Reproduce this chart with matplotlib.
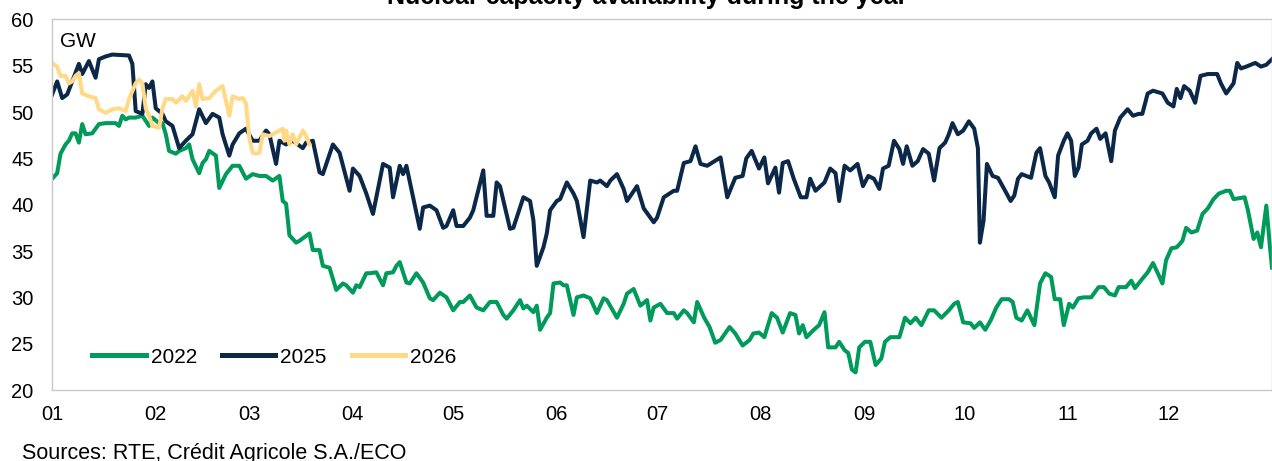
import matplotlib
matplotlib.use("Agg")
import matplotlib.pyplot as plt

plt.rcParams['font.family'] = ['Liberation Sans', 'DejaVu Sans']

# day of year / GW
days_2022 = [0, 1.5, 2.5, 4, 5, 6, 7, 8, 9, 10, 12, 14, 16, 19, 20, 21, 22, 23, 25, 27, 29, 30, 32, 33, 34, 35, 37, 38,
             40, 41, 42, 44, 45, 46, 47, 49, 50, 52, 54, 56, 58, 60, 62, 64, 66, 68, 69, 70, 71, 73, 74, 77, 78, 80,
             81, 83, 85, 87, 88, 90, 91, 92, 94, 95, 97, 99, 100, 102, 103, 104, 106, 107, 109, 111, 113, 114, 116,
             118, 120, 122, 123, 125, 127, 129, 131, 133, 135, 136, 138, 140, 141, 142, 144, 145, 146, 148, 149, 150,
             152, 153, 154, 156, 157, 159, 161, 163, 165, 166, 169, 171, 172, 174, 176, 178, 179, 180, 182, 184, 186,
             187, 189, 190, 192, 193, 195.1, 196.7, 198.4, 200, 202.7, 204.4, 206.6, 208.7, 209.8, 211.5, 213.1,
             215.3, 216.9, 218.6, 220.8, 222.4, 223.5, 224.6, 225.7, 227.9, 229.5, 231.1, 232.2, 234.4, 235.5, 237.1,
             238.2, 239.3, 240.4, 241.5, 243.2, 244.8, 246.4, 248.1, 249.2, 250.8, 253.5, 255.2, 256.8, 258.4, 260.1,
             262.3, 263.9, 266.1, 268.3, 269.9, 271, 272.6, 274.8, 275.9, 277.6, 279.2, 280.8, 282.5, 284.1, 286.3,
             287.4, 288.5, 290.1, 291.8, 293.9, 295.6, 297.2, 298.9, 300, 301.6, 302.7, 304.3, 305.4, 307.1, 308.7,
             310.9, 313.1, 314.7, 316.3, 318, 319.1, 321.3, 322.9, 324, 326.2, 327.8, 329.4, 331.1, 332.2, 333.3,
             334.9, 336.5, 338.2, 339.3, 340.9, 342.6, 344.2, 345.8, 347.5, 349.1, 351.3, 352.4, 353.5, 356.8, 357.8,
             359.5, 360.6, 361.7, 363.3, 364.4, 365]
gw_2022 = [42.8, 43.4, 45.5, 46.5, 46.9, 47.7, 47.7, 46.7, 48.7, 47.6, 47.7, 48.7, 48.8, 48.8, 48.5, 49.6, 49.2, 49.4,
           49.4, 49.6, 48.5, 49.4, 48.8, 48.8, 47.6, 45.8, 45.5, 45.8, 46.1, 46.5, 44.9, 43.4, 44.5, 44.9, 45.8, 45.3,
           41.8, 43.3, 44.2, 44.2, 42.8, 43.3, 43.1, 43.1, 42.6, 43.1, 40.4, 40.1, 36.7, 35.9, 36.1, 36.9, 35.1, 35.1,
           33.4, 33.2, 30.8, 31.5, 31.3, 30.5, 31.3, 31.1, 32.6, 32.6, 32.7, 31.3, 32.6, 32.7, 33.4, 33.8, 31.6, 31.5,
           32.6, 31.6, 29.9, 29.7, 30.5, 30.0, 28.6, 29.5, 29.5, 30.2, 28.9, 28.6, 29.5, 29.5, 28.1, 27.7, 28.6, 29.7,
           28.8, 29.1, 28.4, 29.1, 26.5, 27.8, 28.3, 31.5, 31.6, 31.3, 31.3, 28.1, 30.0, 30.2, 29.9, 28.3, 29.9, 29.7,
           27.8, 29.3, 30.4, 30.9, 29.1, 29.7, 27.5, 28.9, 29.3, 28.3, 28.3, 27.7, 28.6, 28.3, 27.3, 29.5, 27.8, 26.8,
           25.1, 25.4, 26.8, 26.1, 24.8, 25.4, 26.1, 26.2, 25.7, 28.3, 27.8, 26.2, 28.3, 28.1, 26.1, 27.0, 25.7, 26.5,
           27.0, 28.4, 24.6, 24.6, 25.2, 24.3, 24.0, 22.2, 21.9, 24.6, 25.2, 25.2, 22.7, 23.4, 25.2, 25.7, 25.7, 27.8,
           27.2, 27.8, 27.0, 28.6, 28.6, 27.8, 28.6, 29.3, 29.5, 27.3, 27.2, 26.7, 27.3, 26.5, 27.5, 28.9, 29.8, 29.8,
           29.5, 27.8, 27.5, 28.6, 27.0, 31.5, 32.6, 32.2, 29.8, 29.8, 27.0, 29.3, 28.9, 29.9, 30.0, 30.0, 31.1, 31.1,
           30.4, 30.2, 31.1, 31.1, 31.8, 31.0, 32.0, 32.7, 33.7, 32.4, 31.5, 34.0, 35.3, 35.4, 36.1, 37.5, 37.0, 37.2,
           39.0, 39.6, 40.6, 41.2, 41.5, 41.5, 40.6, 40.8, 39.4, 36.3, 37.0, 35.4, 39.9, 35.4, 33.2]

days_2025 = [0, 1.5, 3, 4.5, 6, 8, 9, 11, 13, 14, 16, 18, 23, 24, 25, 27, 28, 29, 30, 31, 33, 34, 36, 38, 40, 42, 44,
             46, 48, 50, 51, 53, 54, 56, 58, 60, 62, 64, 65, 67, 68, 70, 72, 75, 76, 78, 80, 81, 84, 86, 89, 90, 92,
             94, 96, 99, 101, 102, 104, 105, 106, 110, 111, 113, 115, 117, 118, 120, 121, 123, 125, 126, 129, 130,
             132, 133, 134, 137, 138, 141, 143, 144, 145, 147, 148, 149, 151, 152, 154, 156, 157, 159, 161, 163, 164,
             166, 167, 169, 171, 172, 175, 177, 180, 181, 183, 186, 187, 189, 191, 192.5, 194, 196, 200, 202, 204.4,
             206.6, 207.7, 209.3, 211.5, 213.1, 214.2, 216.4, 217.5, 218.6, 220.2, 221.9, 224, 225.7, 226.8, 228.4,
             231.1, 232.8, 234.4, 235.5, 237.1, 238.8, 241, 242.6, 244.2, 245.9, 247.5, 248.6, 250.3, 251.9, 253.5,
             254.6, 255.7, 257.4, 259, 260.6, 262.3, 263.9, 265.5, 267.2, 268.3, 269.4, 271, 272.6, 274.3, 275.9, 277,
             277.6, 278.7, 279.7, 281.4, 283, 284.7, 286.8, 287.9, 289, 290.1, 292.9, 294.5, 295.6, 297.2, 298.3, 300,
             301, 302.7, 303.8, 304.9, 306, 307.1, 308.1, 309.8, 310.9, 312.5, 313.6, 315.2, 316.9, 318, 319.6, 321.8,
             323.4, 325.1, 326.2, 327.8, 329.4, 332.2, 333.8, 335.5, 336.5, 337.6, 338.7, 340.4, 342, 343.6, 345.8,
             348.6, 349.7, 351.3, 353.5, 354.6, 355.7, 357.3, 360, 361.7, 363.3, 365]
gw_2025 = [51.9, 53.3, 51.5, 51.9, 53.3, 55.2, 54.1, 55.5, 53.7, 55.7, 56.0, 56.2, 56.1, 55.2, 50.1, 49.8, 53.0, 52.6,
           53.3, 50.4, 49.8, 49.0, 48.5, 46.1, 46.9, 47.6, 50.3, 48.8, 49.8, 49.4, 47.6, 45.3, 46.5, 47.7, 48.2, 46.9,
           46.9, 48.0, 47.6, 44.4, 46.9, 46.5, 46.9, 46.1, 46.7, 46.9, 43.5, 43.3, 46.5, 45.6, 41.5, 43.9, 43.1, 41.2,
           39.0, 44.4, 44.0, 40.8, 44.2, 43.3, 44.2, 37.4, 39.7, 39.9, 39.4, 37.5, 37.7, 39.4, 37.7, 37.7, 38.6, 39.4,
           43.7, 38.8, 38.8, 42.4, 42.0, 37.4, 37.5, 40.8, 40.4, 38.3, 33.4, 35.4, 36.9, 39.4, 40.4, 40.6, 42.4, 41.2,
           40.4, 36.5, 42.6, 42.4, 42.6, 42.0, 42.6, 43.3, 41.7, 40.4, 42.0, 39.6, 38.1, 38.6, 40.8, 41.5, 41.5, 44.5,
           44.7, 46.3, 44.4, 44.2, 45.1, 40.8, 42.9, 43.1, 45.0, 45.8, 43.9, 45.1, 42.3, 44.0, 41.3, 44.5, 44.7, 42.8,
           40.8, 40.8, 42.8, 41.5, 42.4, 43.9, 43.4, 40.4, 44.2, 43.7, 44.4, 42.0, 43.1, 42.8, 41.7, 43.9, 44.2, 46.9,
           46.0, 44.4, 46.3, 44.2, 44.7, 46.0, 45.5, 42.6, 46.1, 46.7, 47.6, 48.8, 47.6, 48.0, 49.0, 48.2, 46.1, 35.9,
           38.3, 44.4, 43.1, 42.9, 41.8, 40.4, 41.0, 42.8, 43.3, 42.9, 45.6, 46.1, 43.1, 42.4, 40.8, 45.3, 46.9, 47.7,
           46.9, 43.1, 44.0, 46.5, 46.9, 47.7, 48.2, 47.1, 47.7, 44.7, 48.0, 49.4, 50.3, 49.6, 49.8, 49.8, 52.0, 52.3,
           52.0, 51.0, 50.6, 52.5, 51.5, 52.8, 52.3, 51.0, 53.9, 54.1, 54.1, 53.1, 52.0, 53.1, 55.3, 54.7, 54.9, 55.3,
           54.9, 55.1, 55.7]

days_2026 = [0, 1.5, 2.5, 4, 5, 6, 7, 8, 9, 11, 13, 14, 16, 18, 20, 22, 23, 25, 26, 27, 28, 29, 30, 32, 33, 34, 36,
             37, 39, 40, 42, 43, 44, 45, 47, 48, 49, 51, 52, 53, 54, 56, 57, 58, 59, 60, 61, 62, 63, 65, 66, 68, 69,
             69.5, 70, 71, 72, 73, 75, 76, 77]
gw_2026 = [55.3, 54.9, 53.9, 53.9, 53.1, 53.3, 53.9, 54.2, 52.0, 51.7, 51.5, 50.3, 49.9, 50.3, 50.4, 50.1, 51.4, 53.1,
           53.5, 53.1, 50.4, 49.6, 48.5, 48.3, 50.4, 51.4, 51.4, 51.0, 51.7, 51.2, 52.3, 50.6, 53.0, 51.4, 51.5, 51.9,
           52.3, 52.8, 51.2, 49.6, 51.7, 51.4, 51.5, 50.9, 47.2, 45.6, 45.5, 45.6, 47.6, 47.4, 47.6, 48.0, 48.2, 46.9,
           48.0, 46.5, 47.6, 46.5, 48.0, 47.4, 46.5]

month_starts = [0, 31, 59, 90, 120, 151, 181, 212, 243, 273, 304, 334]
month_labels = ['01', '02', '03', '04', '05', '06', '07', '08', '09', '10', '11', '12']

green = '#009A5B'
navy = '#0B2849'
yellow = '#FFD986'

fig = plt.figure(figsize=(12.72, 4.61), dpi=100)
ax = fig.add_axes([0.041, 0.154, 0.959, 0.804])

ax.plot(days_2022, gw_2022, color=green, lw=2.9, label='2022')
ax.plot(days_2025, gw_2025, color=navy, lw=2.9, label='2025')
ax.plot(days_2026, gw_2026, color=yellow, lw=2.9, label='2026')

ax.set_xlim(0, 365)
ax.set_ylim(20, 60)
ax.set_yticks(range(20, 61, 5))
ax.set_xticks(month_starts)
ax.set_xticklabels(month_labels)
ax.tick_params(length=0, labelsize=14.5, colors='#000000')
ax.tick_params(axis='y', pad=13.5)
ax.tick_params(axis='x', pad=11)
for s in ax.spines.values():
    s.set_color('#C8C8C8')
    s.set_linewidth(1.0)

ax.text(0.0066, 0.965, 'GW', transform=ax.transAxes, fontsize=15, va='top', ha='left')

leg = ax.legend(loc='center left', bbox_to_anchor=(0.033, 0.089), ncol=3, frameon=False, fontsize=15,
                handlelength=2.55, columnspacing=1.2, handletextpad=0.25, borderpad=0, borderaxespad=0)
for line in leg.get_lines():
    line.set_linewidth(3.6)

fig.text(0.509, 0.991, 'Nuclear capacity availability during the year', ha='center', va='baseline',
         fontsize=18, fontweight='bold')
fig.text(0.017, 0.004, 'Sources: RTE, Crédit Agricole S.A./ECO', ha='left', va='baseline', fontsize=15.5)

fig.savefig('out.png', dpi=100)
